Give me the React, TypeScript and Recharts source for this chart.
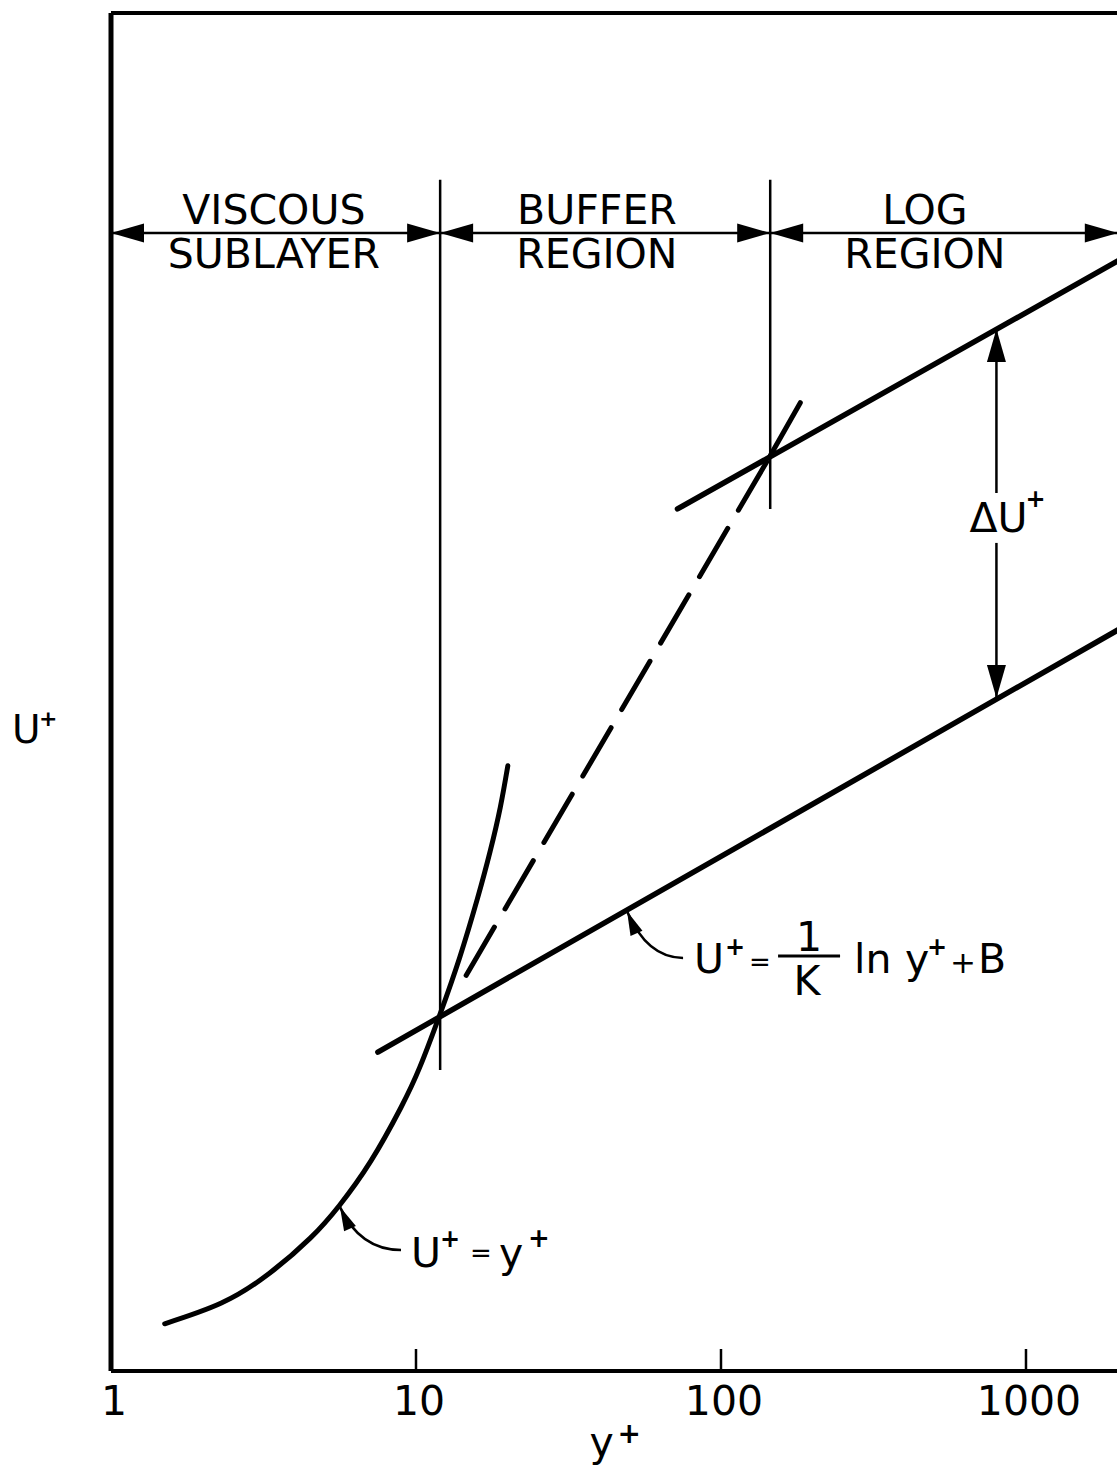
import React from 'react';
import { LineChart, Line, XAxis, YAxis, ReferenceLine, ReferenceDot } from 'recharts';

const FONT = '"DejaVu Sans", "Liberation Sans", sans-serif';
const INK = '#000';

// Axis set-up: y+ on a log scale, U+ linear (unlabelled)
const xDomain = [1, 2000];
const uDomain = [0, 46];
const bottomTicks = [1, 10, 100, 1000];
const topTicks = [10, 100, 1000];

// Viscous sublayer, U+ = y+
const viscous = [
  { y: 1.5, u: 1.6 },
  { y: 2.3, u: 2.3 },
  { y: 3.3, u: 3.3 },
  { y: 4.5, u: 4.5 },
  { y: 5.6, u: 5.6 },
  { y: 7.1, u: 7.1 },
  { y: 8.9, u: 8.9 },
  { y: 10.3, u: 10.3 },
  { y: 12, u: 12.1 },
  { y: 13.9, u: 14.0 },
  { y: 15.9, u: 16.0 },
  { y: 17.5, u: 17.6 },
  { y: 18.9, u: 19.1 },
  { y: 20, u: 20.5 },
];

// Log law, smooth wall
const logLaw = [
  { y: 7.5, u: 10.8 },
  { y: 2000, u: 25.1 },
];

// Log law shifted upward by ΔU+
const shiftedLog = [
  { y: 72, u: 29.2 },
  { y: 2000, u: 37.6 },
];

// Buffer-region fit: dashed part and its solid continuation
const bufferDashed = [
  { y: 14.6, u: 13.4 },
  { y: 145, u: 31.0 },
];
const bufferTail = [
  { y: 145, u: 31.0 },
  { y: 182, u: 32.8 },
];

// Region boundaries (y+) and their vertical extent (U+)
const boundaries = [
  { y: 12, from: 10.2, to: 40.35 },
  { y: 145, from: 29.2, to: 40.35 },
];

// Region span arrows and captions
const regionArrowU = 38.55;
const regionNames = [
  { from: 1, to: 12, center: 3.42, lines: ['VISCOUS', 'SUBLAYER'] },
  { from: 12, to: 145, center: 39.2, lines: ['BUFFER', 'REGION'] },
  { from: 145, to: 2000, center: 466, lines: ['LOG', 'REGION'] },
];

// ΔU+ dimension arrow
const deltaX = 800;
const deltaTopTip = 35.3;
const deltaTopGap = 29.74;
const deltaBottomGap = 28.05;
const deltaBottomTip = 22.8;
const deltaLabelU = 28.42;

// Leader arrows for the two formulas: from text end to point on curve
const viscousNote = { from: { y: 8.93, u: 4.1 }, to: { y: 5.63, u: 5.56 } };
const logNote = { from: { y: 75.1, u: 13.99 }, to: { y: 49.2, u: 15.57 } };

const tri = (tx: number, ty: number, dx: number, dy: number, len: number, half: number) => {
  const n = Math.hypot(dx, dy) || 1;
  const ux = dx / n;
  const uy = dy / n;
  const bx = tx - ux * len;
  const by = ty - uy * len;
  return `M${tx},${ty} L${bx - uy * half},${by + ux * half} L${bx + uy * half},${by - ux * half} Z`;
};

const DoubleArrow = (p: any) => {
  const { x1, y1, x2, y2 } = p;
  return (
    <g>
      <line x1={x1} y1={y1} x2={x2} y2={y2} stroke={INK} strokeWidth={2.5} />
      <path d={tri(x1, y1, x1 - x2, y1 - y2, 33, 9.5)} fill={INK} />
      <path d={tri(x2, y2, x2 - x1, y2 - y1, 33, 9.5)} fill={INK} />
    </g>
  );
};

const SingleArrow = (p: any) => {
  const { x1, y1, x2, y2 } = p;
  return (
    <g>
      <line x1={x1} y1={y1} x2={x2} y2={y2} stroke={INK} strokeWidth={2.5} />
      <path d={tri(x2, y2, x2 - x1, y2 - y1, 33, 9.5)} fill={INK} />
    </g>
  );
};

const Plain = (p: any) => (
  <line x1={p.x1} y1={p.y1} x2={p.x2} y2={p.y2} stroke={INK} strokeWidth={2.5} />
);

const Sup = ({ x, y, size = 24 }: { x: number; y: number; size?: number }) => (
  <text x={x} y={y} fontSize={size} fontWeight="bold" fontFamily={FONT} fill={INK}>
    +
  </text>
);

// Curved leader from (x1,y1) to (x2,y2) with arrowhead at the curve
const leaderPath = (x1: number, y1: number, x2: number, y2: number) => {
  const cx = x2 + 20;
  const cy = y1;
  return (
    <g>
      <path d={`M${x1},${y1} Q${cx},${cy} ${x2},${y2}`} fill="none" stroke={INK} strokeWidth={2.5} />
      <path d={tri(x2, y2, x2 - cx, y2 - cy, 24, 6.5)} fill={INK} />
    </g>
  );
};

const ViscousLeader = (p: any) => {
  const { x1, y1, x2, y2 } = p;
  const tx = x1 + 10;
  const by = y1 + 17;
  return (
    <g>
      {leaderPath(x1, y1, x2, y2)}
      <text x={tx} y={by} fontSize={41} fontFamily={FONT} fill={INK}>U</text>
      <Sup x={tx + 29} y={by - 20} />
      <text x={tx + 59} y={by - 5} fontSize={26} fontFamily={FONT} fill={INK}>=</text>
      <text x={tx + 88} y={by} fontSize={41} fontFamily={FONT} fill={INK}>y</text>
      <Sup x={tx + 117} y={by - 20} size={26} />
    </g>
  );
};

const LogLeader = (p: any) => {
  const { x1, y1, x2, y2 } = p;
  const tx = x1 + 11;
  const by = y1 + 15;
  return (
    <g>
      {leaderPath(x1, y1, x2, y2)}
      <text x={tx} y={by} fontSize={41} fontFamily={FONT} fill={INK}>U</text>
      <Sup x={tx + 31} y={by - 18} />
      <text x={tx + 55} y={by - 2} fontSize={26} fontFamily={FONT} fill={INK}>=</text>
      <line x1={tx + 84} y1={by - 17} x2={tx + 146} y2={by - 17} stroke={INK} strokeWidth={3} />
      <text x={tx + 115} y={by - 22} textAnchor="middle" fontSize={41} fontFamily={FONT} fill={INK}>1</text>
      <text x={tx + 113} y={by + 22} textAnchor="middle" fontSize={41} fontFamily={FONT} fill={INK}>K</text>
      <text x={tx + 160} y={by} fontSize={41} fontFamily={FONT} fill={INK}>ln</text>
      <text x={tx + 211} y={by} fontSize={41} fontFamily={FONT} fill={INK}>y</text>
      <Sup x={tx + 233} y={by - 18} />
      <text x={tx + 256} y={by} fontSize={31} fontFamily={FONT} fill={INK}>+</text>
      <text x={tx + 284} y={by} fontSize={41} fontFamily={FONT} fill={INK}>B</text>
    </g>
  );
};

const regionCaption = (lines: string[]) => (p: any) => (
  <g>
    <text x={p.cx} y={p.cy - 9} textAnchor="middle" fontSize={41} fontFamily={FONT} fill={INK}>
      {lines[0]}
    </text>
    <text x={p.cx} y={p.cy + 35} textAnchor="middle" fontSize={41} fontFamily={FONT} fill={INK}>
      {lines[1]}
    </text>
  </g>
);

const DeltaLabel = (p: any) => (
  <g>
    <text x={p.cx - 27} y={p.cy} fontSize={41} fontFamily={FONT} fill={INK}>ΔU</text>
    <Sup x={p.cx + 29} y={p.cy - 25} />
  </g>
);

const BottomTick = (p: any) => (
  <text x={p.x + 3} y={p.y + 66} textAnchor="middle" fontSize={41} fontFamily={FONT} fill={INK}>
    {p.payload.value}
  </text>
);

const XTitle = (p: any) => {
  const vb = p.viewBox || {};
  const cx = vb.x + vb.width / 2;
  return (
    <g>
      <text x={cx - 25} y={vb.y + 85} fontSize={41} fontFamily={FONT} fill={INK}>y</text>
      <Sup x={cx + 3} y={vb.y + 72} size={28} />
    </g>
  );
};

const YTitle = (p: any) => {
  const vb = p.viewBox || {};
  const cy = vb.y + vb.height / 2;
  return (
    <g>
      <text x={vb.x - 98} y={cy + 51} fontSize={39} fontFamily={FONT} fill={INK}>U</text>
      <Sup x={vb.x - 71} y={cy + 34} size={22} />
    </g>
  );
};

export default function App() {
  return (
    <div
      style={{
        position: 'absolute',
        left: 0,
        top: 0,
        width: 1117,
        height: 1469,
        overflow: 'hidden',
        background: '#fff',
      }}
    >
      <LineChart width={1140} height={1469} margin={{ top: 12, right: 22.2, bottom: 38, left: 110 }}>
        <XAxis
          xAxisId="b"
          dataKey="y"
          type="number"
          scale="log"
          domain={xDomain}
          allowDataOverflow
          ticks={bottomTicks}
          interval={0}
          height={60}
          tickSize={-22}
          tickMargin={0}
          axisLine={{ stroke: INK, strokeWidth: 4 }}
          tickLine={{ stroke: INK, strokeWidth: 2.5 }}
          tick={<BottomTick />}
          label={{ content: <XTitle /> }}
        />
        <XAxis
          xAxisId="t"
          orientation="top"
          dataKey="y"
          type="number"
          scale="log"
          domain={xDomain}
          allowDataOverflow
          ticks={topTicks}
          interval={0}
          height={1}
          tickSize={-23}
          axisLine={{ stroke: INK, strokeWidth: 4 }}
          tickLine={{ stroke: INK, strokeWidth: 2.5 }}
          tick={false}
        />
        <YAxis
          yAxisId="u"
          type="number"
          domain={uDomain}
          allowDataOverflow
          width={1}
          tick={false}
          tickLine={false}
          axisLine={{ stroke: INK, strokeWidth: 5 }}
          label={{ content: <YTitle /> }}
        />

        {boundaries.map((b, i) => (
          <ReferenceLine
            key={`bd${i}`}
            xAxisId="b"
            yAxisId="u"
            ifOverflow="visible"
            segment={[
              { x: b.y, y: b.from },
              { x: b.y, y: b.to },
            ]}
            shape={Plain}
          />
        ))}

        {regionNames.map((r, i) => (
          <ReferenceLine
            key={`ra${i}`}
            xAxisId="b"
            yAxisId="u"
            ifOverflow="visible"
            segment={[
              { x: r.from, y: regionArrowU },
              { x: r.to, y: regionArrowU },
            ]}
            shape={DoubleArrow}
          />
        ))}
        {regionNames.map((r, i) => (
          <ReferenceDot
            key={`rc${i}`}
            xAxisId="b"
            yAxisId="u"
            ifOverflow="visible"
            x={r.center}
            y={regionArrowU}
            r={0}
            shape={regionCaption(r.lines)}
          />
        ))}

        <Line xAxisId="b" yAxisId="u" data={viscous} dataKey="u" type="natural" stroke={INK} strokeWidth={5} strokeLinecap="round" dot={false} isAnimationActive={false} />
        <Line xAxisId="b" yAxisId="u" data={logLaw} dataKey="u" type="linear" stroke={INK} strokeWidth={5.5} strokeLinecap="round" dot={false} isAnimationActive={false} />
        <Line xAxisId="b" yAxisId="u" data={shiftedLog} dataKey="u" type="linear" stroke={INK} strokeWidth={5.5} strokeLinecap="round" dot={false} isAnimationActive={false} />
        <Line xAxisId="b" yAxisId="u" data={bufferDashed} dataKey="u" type="linear" stroke={INK} strokeWidth={5} strokeLinecap="round" strokeDasharray="56 21" dot={false} isAnimationActive={false} />
        <Line xAxisId="b" yAxisId="u" data={bufferTail} dataKey="u" type="linear" stroke={INK} strokeWidth={5} strokeLinecap="round" dot={false} isAnimationActive={false} />

        <ReferenceLine
          xAxisId="b"
          yAxisId="u"
          ifOverflow="visible"
          segment={[
            { x: deltaX, y: deltaTopGap },
            { x: deltaX, y: deltaTopTip },
          ]}
          shape={SingleArrow}
        />
        <ReferenceLine
          xAxisId="b"
          yAxisId="u"
          ifOverflow="visible"
          segment={[
            { x: deltaX, y: deltaBottomGap },
            { x: deltaX, y: deltaBottomTip },
          ]}
          shape={SingleArrow}
        />
        <ReferenceDot xAxisId="b" yAxisId="u" ifOverflow="visible" x={deltaX} y={deltaLabelU} r={0} shape={DeltaLabel} />

        <ReferenceLine
          xAxisId="b"
          yAxisId="u"
          ifOverflow="visible"
          segment={[
            { x: viscousNote.from.y, y: viscousNote.from.u },
            { x: viscousNote.to.y, y: viscousNote.to.u },
          ]}
          shape={ViscousLeader}
        />
        <ReferenceLine
          xAxisId="b"
          yAxisId="u"
          ifOverflow="visible"
          segment={[
            { x: logNote.from.y, y: logNote.from.u },
            { x: logNote.to.y, y: logNote.to.u },
          ]}
          shape={LogLeader}
        />
      </LineChart>
    </div>
  );
}
